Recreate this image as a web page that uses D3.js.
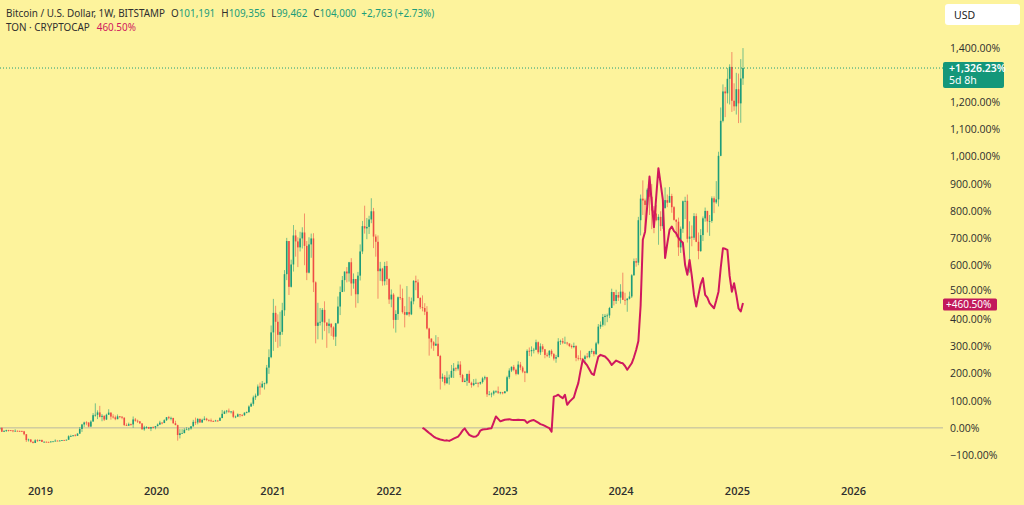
<!DOCTYPE html>
<html><head><meta charset="utf-8">
<script src="https://cdn.jsdelivr.net/npm/d3@7"></script>
<style>
html,body{margin:0;padding:0;background:#fdf39c;}
svg{display:block;}
text{font-family:"Noto Sans","Open Sans",sans-serif;}
</style></head>
<body>
<svg id="c" width="1024" height="505"></svg>
<script>
// ---- DATA ----
const firstWeek = "2018-08-27";           // Monday of first weekly bar
const firstOpen = 6900;
// weekly closes (USD), BTC/USD Bitstamp
const btcClose = [
7292,6250,6520,6710,6640,6590,6380,6500,6470,6400,6360,5580,4010,4170,3550,3250,3950,3820,
4050,3530,3540,3530,3420,3630,3670,3850,3820,3880,3990,3960,4100,5040,5070,5290,5160,5740,7000,8200,8740,8730,7650,8990,10700,10800,11450,10250,10530,9530,10820,11390,10320,10140,9630,10400,10310,10030,8050,7880,8280,8220,9550,9210,9050,8500,6900,7420,7510,7100,7510,7390,
7760,8180,8700,8600,9350,10150,9900,9970,8540,8030,5370,5830,5880,6780,6900,7130,7700,8900,8750,9680,8730,9450,9750,9430,9300,9120,9080,9250,9200,9930,11060,11680,11900,11650,11700,10260,10330,10930,10770,10670,11380,11500,13030,13760,15480,15960,18400,18180,19150,19280,23480,26280,32950,
38200,35800,32300,33100,38900,48600,57500,45200,51200,59000,57400,55800,58200,59800,56200,49000,56600,58200,46400,34700,35600,35800,39000,35600,34700,35300,34300,31800,35400,39900,43800,47000,49300,48800,51800,46100,47300,43200,48200,54700,61500,60900,61300,63300,65500,58700,57300,49400,50100,46700,50800,47300,
41800,43100,36300,37900,42400,42200,38400,37700,38400,37800,41300,46800,46400,42200,39700,39500,38500,34000,31300,30300,29400,29900,26600,20500,21000,19300,20800,20800,22600,23300,23200,24300,21500,19600,19950,21800,19400,18800,19300,19400,19200,19600,20600,20900,16300,16300,16500,17100,17100,16750,16850,16600,
17100,20900,22700,23700,22900,21800,24300,23500,22400,22100,28000,27900,28200,28300,30300,27600,29200,28400,26900,26800,28000,27100,25900,26300,30500,30600,30200,30200,30000,29300,29000,29300,26100,26000,25900,25800,26500,26300,27900,27900,27100,30000,34500,35000,37100,37400,37500,39500,43800,41400,43000,42300,
43900,41700,41600,42000,42600,48300,52100,51700,63100,68900,68400,67200,71300,69400,65700,64900,63100,64000,61500,66300,68500,67800,69600,66600,63200,62700,55800,60800,68200,68300,58100,58700,58400,64200,57300,54800,59100,63600,65600,62800,62900,69000,67900,68700,80400,89800,97700,97200,101100,104300,95200,93700,98300,94500,101191,
104000];
const btcHigh = [
7400,7420,6560,6800,6760,6710,6700,6900,6600,6550,6550,6480,5600,4400,4250,3600,4250,4240,
4100,4100,3700,3650,3550,3700,3720,4200,3920,3950,4010,4090,4150,5300,5450,5360,5630,5850,7500,8350,8950,9090,8800,9350,11250,13880,12000,13200,11000,10650,11100,12300,11450,10950,10600,10900,10450,10350,10100,8500,8700,8450,10350,9950,9500,9100,8500,7850,7750,7550,7550,7700,
7800,8470,9190,8800,9600,10200,10500,10300,9950,9200,8150,6950,6950,7200,7470,7300,7750,9450,10050,9950,9850,9750,10400,9990,9550,9800,9300,9450,9350,10200,12100,11950,12100,12480,11800,12050,10600,11180,10950,10950,11450,11700,13350,14100,15950,16500,18950,19450,19900,19450,24200,28400,34800,
41950,40100,37800,38500,40900,49700,58350,57500,52500,61800,60500,58500,60000,61200,64900,57500,58500,59500,59600,46650,40900,39500,39500,41300,35600,36600,35300,34600,35500,42600,45300,48100,49300,50500,51900,52900,48800,47300,49200,56600,62900,67000,63700,64300,69000,66400,59300,59000,51900,50300,51900,52100,
47500,44500,43500,38900,42600,45800,44700,40000,45400,42500,42300,47000,48200,47200,42400,42900,40800,40000,34200,31300,30600,32200,31700,26900,21900,21500,22500,21600,24200,24700,23600,25200,25200,21800,20600,21800,22700,19700,20400,20500,19500,19700,21000,21300,21000,17200,16800,17400,17400,18400,17000,16950,
17200,21300,23300,23800,24200,23200,25200,25000,23900,22600,28400,28900,29200,28800,31000,30500,30000,29800,28500,27500,28200,28400,27400,26900,31400,31000,31400,31800,30400,29600,29700,30200,29500,26800,28100,26100,26900,27400,28000,28600,28000,30400,35200,35900,37900,37900,38000,39800,44700,43400,44400,43800,
45900,49000,43600,42200,43900,48600,52800,52900,64000,70000,73800,68900,71700,71300,72800,66900,67200,64700,65500,67700,71900,70000,72000,70200,66900,63400,63800,61400,68400,69400,70000,62800,61700,65000,64900,59800,60700,64100,66500,65600,64500,69500,69500,73600,81500,93400,99600,98900,104000,105000,108300,99900,102700,102500,106400,
109356];
const btcLow = [
6650,6200,6170,6180,6300,6470,6120,6380,6350,6260,6300,5300,3500,3600,3350,3120,3200,3520,
3700,3500,3470,3480,3370,3370,3570,3640,3750,3720,3830,3930,3920,4100,4950,4980,5060,5150,5700,6200,7550,8000,7450,7520,8980,10300,9650,10100,9070,9150,9400,10800,9500,9800,9350,9600,9900,9600,7800,7800,7850,7850,7300,8950,8600,8350,6850,6520,7100,7000,6430,7150,
6900,7700,8100,8250,8550,9150,9600,9300,8400,8000,3850,4450,5850,5860,6750,6500,6800,7650,8100,8250,8700,8650,9300,9100,8950,8850,8900,9050,9000,9150,9900,11000,11150,11300,11150,9900,9900,10200,10150,10400,10550,11200,11400,12950,13250,14800,15800,16200,18100,17600,19000,21800,26000,
28000,30400,28800,29200,32300,37400,47000,43000,45000,49300,53300,50500,54700,55500,51000,47000,48800,53000,43800,30000,31100,34800,31000,33300,28800,32700,32000,31000,29300,35200,37600,43800,43900,46400,46600,42800,44700,39600,40800,46900,54000,59500,58000,59400,62300,55600,53300,42000,46800,45500,45600,45700,
40600,39700,34000,32900,36300,41700,38000,34300,37500,37200,37600,40500,44300,42100,39200,38600,37600,33700,26700,28600,28000,29300,26500,17600,19700,18700,19100,18900,20800,20700,22500,22700,20800,19600,19600,18600,19300,18100,18500,19100,18200,18900,19200,20100,15600,16300,15500,16000,16700,16400,16300,16300,
16600,17100,20400,22300,22500,21400,21500,22800,22000,19600,21900,26600,26500,27300,28200,27100,26900,27700,26000,26300,26100,26500,25400,24800,26300,29600,29800,30000,29500,29000,28600,28700,25200,25400,25400,25400,24900,26000,26000,27200,26500,26900,29700,33900,34500,34800,35700,36800,39500,40200,40600,41400,
40700,41700,40300,38500,41800,42200,48200,50600,51000,59000,64500,60800,66700,64500,60700,59600,62800,56500,60200,60800,66500,66600,68500,65100,63000,58500,53500,54300,59700,63400,57100,49000,56100,57800,57200,52600,54600,57500,62700,59800,58900,62400,65000,67500,66800,80300,89400,90800,94500,94200,92200,92500,91500,89200,89300,
99462];
// TON · CRYPTOCAP, % change, weekly from week index 190
const tonStartIndex = 190;
const tonPct = [
0,-5,-12,-19,-25,-32,-37,-40,-43,-45,-47,-46,-48,-44,-40,-36,-32,-22,-10,-2,
-15,-26,-30,-33,-32,-25,-10,-6,-5,-4,-2,-1,20,42,33,24,27,30,31,32,
30,29,29,30,29,29,28,18,24,27,29,24,19,14,11,7,3,-1,-14,115,
118,122,115,109,122,85,96,104,112,140,165,210,251,240,230,215,200,195,230,262,
269,266,263,255,245,232,240,248,244,240,238,228,214,226,238,260,287,320,450,693,
723,820,926,830,740,850,957,900,840,626,680,730,742,725,717,700,690,682,600,564,
619,560,490,447,490,530,552,490,480,460,450,441,470,502,590,662,660,656,560,502,
533,490,440,429,460.5];
const yearTicks = [2019,2020,2021,2022,2023,2024,2025,2026];
// 1,300.00% sits behind the last-price label in the original, so it is not listed
const pctTicks = [-100,0,100,200,300,400,500,600,700,800,900,1000,1100,1200,1400];
const header1 = "Bitcoin / U.S. Dollar, 1W, BITSTAMP";
const ohlc = [["O","101,191"],["H","109,356"],["L","99,462"],["C","104,000"]];
const changeText = "+2,763 (+2.73%)";
const header2 = "TON · CRYPTOCAP";
const tonLast = "460.50%";
const btcLastLabel = "+1,326.23%";
const btcTimer = "5d 8h";
const tonLastLabel = "+460.50%";

// ---- STYLE ----
const UP = "#1c9c7a", DOWN = "#ee4b45", TON = "#d0185e", BG = "#fdf39c";

const svg = d3.select("#c");
svg.append("rect").attr("width",1024).attr("height",505).attr("fill",BG);

const start = new Date(firstWeek + "T00:00:00Z");
const dateOf = i => d3.utcDay.offset(start, 7*i);
const x = d3.scaleUtc()
  .domain([new Date(Date.UTC(2019,0,1)), new Date(Date.UTC(2026,0,1))])
  .range([40, 853]);
const y = d3.scaleLinear().domain([-100, 1400]).range([455, 48]);
const base = btcClose[0];
const pct = v => (v / base - 1) * 100;

svg.append("clipPath").attr("id","pc").append("rect").attr("x",0).attr("y",0).attr("width",943).attr("height",505);
const plot = svg.append("g").attr("clip-path","url(#pc)");

// zero line
plot.append("line").attr("x1",0).attr("x2",943).attr("y1",y(0)).attr("y2",y(0))
  .attr("stroke","#b9b8a2").attr("stroke-width",1);

// candles
const bars = btcClose.map((c,i)=>({
  d: dateOf(i), o: i===0 ? firstOpen : btcClose[i-1], c, h: btcHigh[i], l: btcLow[i]
}));
const cg = plot.append("g");
cg.selectAll("line.w").data(bars).join("line").attr("class","w")
  .attr("x1",d=>x(d.d)).attr("x2",d=>x(d.d))
  .attr("y1",d=>y(pct(d.h))).attr("y2",d=>y(pct(d.l)))
  .attr("stroke",d=>d.c>=d.o?UP:DOWN).attr("stroke-width",0.8).attr("opacity",0.75);
cg.selectAll("rect.b").data(bars).join("rect").attr("class","b")
  .attr("x",d=>x(d.d)-0.8).attr("width",1.6)
  .attr("y",d=>Math.min(y(pct(d.o)),y(pct(d.c))))
  .attr("height",d=>Math.max(0.8,Math.abs(y(pct(d.o))-y(pct(d.c)))))
  .attr("fill",d=>d.c>=d.o?UP:DOWN);

// TON line
const tonData = tonPct.map((v,k)=>({d: dateOf(tonStartIndex+k), v}));
plot.append("path").datum(tonData)
  .attr("d", d3.line().x(d=>x(d.d)).y(d=>y(d.v)))
  .attr("fill","none").attr("stroke",TON).attr("stroke-width",2).attr("stroke-linejoin","round");

// last price dotted line
const lastPct = pct(btcClose[btcClose.length-1]);
svg.append("line").attr("x1",0).attr("x2",944).attr("y1",y(lastPct)).attr("y2",y(lastPct))
  .attr("stroke",UP).attr("stroke-width",1).attr("stroke-dasharray","1,2");

// right axis
const fmt = d3.format(",.2f");
const ay = svg.append("g").attr("transform","translate(944,0)")
  .call(d3.axisRight(y).tickValues(pctTicks).tickSize(0).tickPadding(6).tickFormat(d=>fmt(d)+"%"));
ay.select(".domain").remove();
ay.selectAll("text").attr("fill","#2e2e2e").style("font-size","10.5px").style("font-family","'Open Sans',sans-serif");
ay.selectAll(".tick").filter(d=>d===500).select("text").attr("dy","0.1em");

// bottom axis
const ax = svg.append("g").attr("transform","translate(0,481)")
  .call(d3.axisBottom(x).tickValues(yearTicks.map(yr=>new Date(Date.UTC(yr,0,1)))).tickSize(0).tickPadding(6).tickFormat(d3.utcFormat("%Y")));
ax.select(".domain").remove();
ax.selectAll("text").attr("fill","#2e2e2e").style("font-size","11px").style("font-weight","600").style("font-family","'Open Sans',sans-serif");

// USD box
svg.append("rect").attr("x",945).attr("y",4).attr("width",75).attr("height",21).attr("rx",3).attr("fill","#ffffff");
svg.append("text").attr("x",954).attr("y",18.5).text("USD").attr("fill","#222").style("font-size","10.5px");

// last value labels
const lb = svg.append("g");
lb.append("rect").attr("x",943).attr("y",y(lastPct)-6).attr("width",61).attr("height",26).attr("rx",2).attr("fill","#14977a");
lb.append("text").attr("x",949).attr("y",y(lastPct)+4).text(btcLastLabel).attr("fill","#fff").style("font-size","10.5px").style("font-weight","600");
lb.append("text").attr("x",949).attr("y",y(lastPct)+16).text(btcTimer).attr("fill","#fff").style("font-size","10.5px");
const tl = tonPct[tonPct.length-1];
lb.append("rect").attr("x",943).attr("y",y(tl)-4.5).attr("width",54).attr("height",12).attr("rx",1.5).attr("fill","#c2185b");
lb.append("text").attr("x",946).attr("y",y(tl)+5).text(tonLastLabel).attr("fill","#fff").style("font-size","10px");

// header (narrow face: horizontally condensed)
const hg = svg.append("g").attr("transform","translate(6,0) scale(0.86,1)");
const h1 = hg.append("text").attr("x",0).attr("y",17).style("font-size","11.5px").attr("fill","#2e2e2e");
h1.append("tspan").text(header1);
ohlc.forEach(([k,v])=>{
  h1.append("tspan").text(k).attr("fill","#2e2e2e").attr("dx", 7);
  h1.append("tspan").text(v).attr("fill",UP);
});
h1.append("tspan").text(changeText).attr("fill",UP).attr("dx",6);
const h2 = hg.append("text").attr("x",0).attr("y",31).style("font-size","11.5px").attr("fill","#2e2e2e");
h2.append("tspan").text(header2);
h2.append("tspan").text(tonLast).attr("fill",TON).attr("dx",8);
</script>
</body></html>
